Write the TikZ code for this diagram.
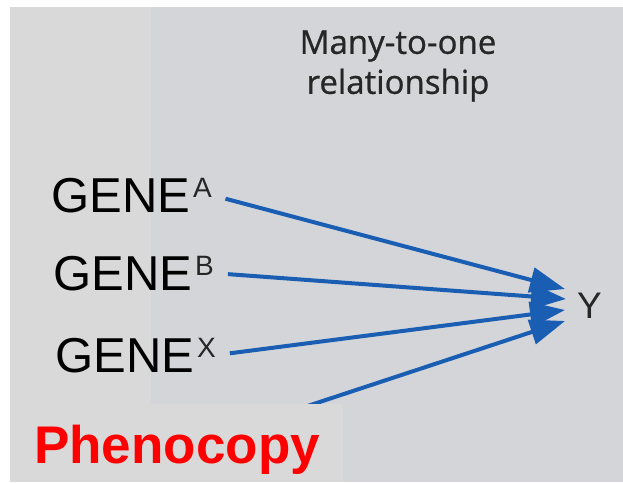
\documentclass[tikz,border=0pt]{standalone}
\usepackage{fontspec}
\usepackage{xcolor}
\usetikzlibrary{arrows.meta}
\setmainfont{Liberation Sans}
\newfontfamily\titlefont[FakeBold=0.8]{Open Sans}

\definecolor{outergray}{HTML}{D9D9D9}
\definecolor{panelgray}{HTML}{D4D5D8}
\definecolor{linkblue}{HTML}{1A5EB4}
\definecolor{darktext}{HTML}{262626}
\definecolor{phenored}{HTML}{FF0000}

\newcommand{\genesup}[1]{\kern3pt\raisebox{15pt}{\fontsize{28}{28}\selectfont\color{darktext}#1}}

\begin{document}
\begin{tikzpicture}[
            x=1pt, y=-1pt,
            gene/.style={anchor=base west, inner sep=0pt, font=\fontsize{49}{49}\selectfont},
            link/.style={-{Triangle[length=35pt, width=25pt]}, line width=4pt, draw=linkblue, shorten <=14pt}
        ]
            \useasboundingbox (0,0) rectangle (623,482);
            \fill[outergray] (10,7) rectangle (623,482);
            \fill[panelgray] (151,7) rectangle (623,482);

            \node[font=\titlefont\fontsize{33}{40}\selectfont, text=darktext, align=center] (title) at (398,66) {Many-to-one\\relationship};

            \node[gene] (geneA) at (51,212) {GENE\genesup{A}};
            \node[gene] (geneB) at (53,290) {GENE\genesup{B}};
            \node[gene] (geneX) at (55,372) {GENE\genesup{X}};

            \node[font=\fontsize{37}{37}\selectfont, text=darktext, anchor=base west, inner sep=0pt] (Y) at (577,318) {Y};

            \coordinate (tipA) at (565,289);
            \coordinate (tipB) at (566,299);
            \coordinate (tipX) at (565,310);
            \coordinate (tipD) at (565,321);
            \coordinate (srcD) at (250,425);

            \draw[link] (geneA.east) -- (tipA);
            \draw[link] (geneB.east) -- (tipB);
            \draw[link] (geneX.east) -- (tipX);
            \draw[link, shorten <=0pt] (srcD) -- (tipD);

            % box over the hidden fourth gene
            \fill[outergray] (10,404) rectangle (343,482);
            \node[font=\bfseries\fontsize{53}{53}\selectfont, text=phenored, anchor=base west, inner sep=0pt] (pheno) at (34,463) {Phenocopy};
        \end{tikzpicture}
\end{document}
